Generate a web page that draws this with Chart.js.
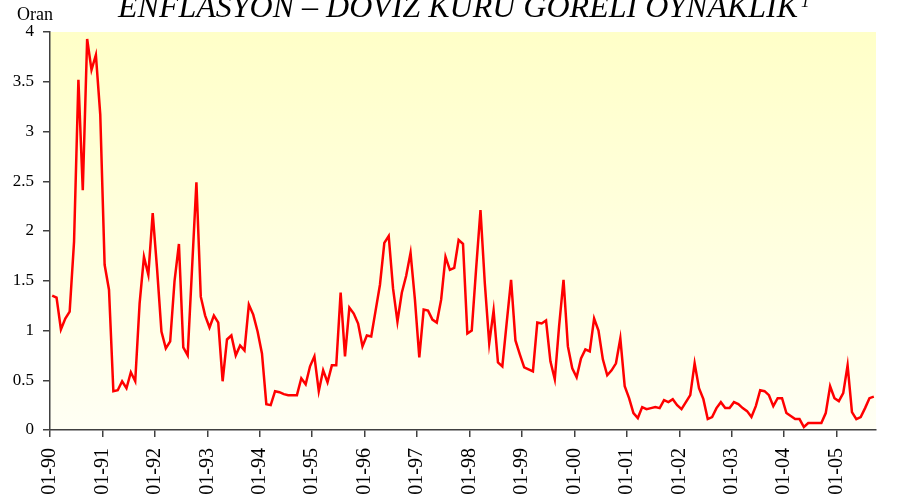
<!DOCTYPE html>
<html>
<head>
<meta charset="utf-8">
<title>Enflasyon – Döviz Kuru Göreli Oynaklık</title>
<script src="https://cdn.jsdelivr.net/npm/chart.js@4.4.1/dist/chart.umd.min.js"></script>
<style>
  html, body { margin: 0; padding: 0; background: #fff; }
  #wrap { width: 904px; height: 502px; }
</style>
</head>
<body>
<div id="wrap"><canvas id="oynaklik-chart" width="904" height="502"></canvas></div>
<script>
// x axis labels, one per January (1990 - 2005)
const yearLabels = ['01-90', '01-91', '01-92', '01-93', '01-94', '01-95', '01-96', '01-97',
  '01-98', '01-99', '01-00', '01-01', '01-02', '01-03', '01-04', '01-05'];

// monthly ratio, Jan 1990 - Sep 2005 (one row per year)
const oran = [
  1.35, 1.33, 1.01, 1.12, 1.19, 1.89, 3.52, 2.41, 3.93, 3.62, 3.77, 3.17, // 1990
  1.66, 1.41, 0.39, 0.40, 0.49, 0.42, 0.58, 0.49, 1.27, 1.74, 1.56, 2.18, // 1991
  1.62, 0.99, 0.82, 0.89, 1.50, 1.87, 0.83, 0.75, 1.62, 2.49, 1.34, 1.15, // 1992
  1.03, 1.15, 1.08, 0.49, 0.91, 0.95, 0.75, 0.85, 0.80, 1.26, 1.16, 0.99, // 1993
  0.77, 0.26, 0.25, 0.39, 0.38, 0.36, 0.35, 0.35, 0.35, 0.52, 0.46, 0.64, // 1994
  0.74, 0.39, 0.60, 0.48, 0.65, 0.65, 1.38, 0.74, 1.23, 1.17, 1.07, 0.84, // 1995
  0.95, 0.94, 1.20, 1.46, 1.88, 1.95, 1.42, 1.09, 1.38, 1.55, 1.78, 1.31, // 1996
  0.73, 1.21, 1.20, 1.11, 1.08, 1.31, 1.74, 1.61, 1.63, 1.91, 1.87, 0.97, // 1997
  1.00, 1.62, 2.21, 1.47, 0.87, 1.20, 0.68, 0.64, 1.08, 1.51, 0.90, 0.76, // 1998
  0.63, 0.61, 0.59, 1.08, 1.07, 1.10, 0.69, 0.51, 1.05, 1.51, 0.84, 0.62, // 1999
  0.53, 0.72, 0.81, 0.79, 1.12, 1.00, 0.71, 0.55, 0.60, 0.67, 0.92, 0.44, // 2000
  0.32, 0.17, 0.12, 0.23, 0.21, 0.22, 0.23, 0.22, 0.30, 0.28, 0.31, 0.25, // 2001
  0.21, 0.28, 0.35, 0.67, 0.42, 0.31, 0.11, 0.13, 0.22, 0.28, 0.22, 0.22, // 2002
  0.28, 0.26, 0.22, 0.19, 0.13, 0.24, 0.40, 0.39, 0.35, 0.24, 0.32, 0.32, // 2003
  0.17, 0.14, 0.11, 0.11, 0.03, 0.07, 0.07, 0.07, 0.07, 0.17, 0.44, 0.32, // 2004
  0.29, 0.37, 0.65, 0.18, 0.11, 0.13, 0.22, 0.32, 0.335                   // 2005
];

const chartTitle = 'ENFLASYON – DÖVİZ KURU GÖRELİ OYNAKLIK';
const titleNote = '1';
const yAxisTitle = 'Oran';

const serif = '"Liberation Serif", "Times New Roman", serif';

// each month sits in the middle of its slot, January ticks on the slot edges
const points = oran.map((v, i) => ({ x: i + 0.5, y: v }));

// pale yellow fading to white behind the plot
const plotBackground = {
  id: 'plotBackground',
  beforeDraw(chart) {
    const { ctx, chartArea: a } = chart;
    const g = ctx.createLinearGradient(0, a.top, 0, a.bottom);
    g.addColorStop(0, '#ffffc8');
    g.addColorStop(1, '#fffff4');
    ctx.save();
    ctx.fillStyle = g;
    ctx.fillRect(a.left, a.top, a.right - a.left, a.bottom - a.top);
    ctx.restore();
  }
};

// title at the very top (with its footnote mark) and the unit label above the y axis
const headings = {
  id: 'headings',
  afterDraw(chart) {
    const { ctx } = chart;
    ctx.save();
    ctx.fillStyle = '#000';
    ctx.textBaseline = 'alphabetic';
    ctx.textAlign = 'left';
    ctx.font = 'italic 32px ' + serif;
    const left = 118;
    ctx.fillText(chartTitle, left, 17);
    const w = ctx.measureText(chartTitle).width;
    ctx.font = 'italic 17px ' + serif;
    ctx.fillText(titleNote, left + w + 3, 7);
    ctx.font = '18px ' + serif;
    ctx.fillText(yAxisTitle, 17, 20);
    ctx.restore();
  }
};

const ctx = document.getElementById('oynaklik-chart').getContext('2d');

new Chart(ctx, {
  type: 'line',
  data: {
    datasets: [{
      label: yAxisTitle,
      data: points,
      borderColor: '#ff0000',
      borderWidth: 2.5,
      pointRadius: 0,
      tension: 0,
      fill: false
    }]
  },
  options: {
    responsive: false,
    animation: false,
    devicePixelRatio: 1,
    layout: { padding: { top: 32, right: 28, left: 0, bottom: 0 } },
    plugins: {
      legend: { display: false },
      tooltip: { enabled: false }
    },
    scales: {
      x: {
        type: 'linear',
        min: 0,
        max: oran.length,
        afterBuildTicks(scale) {
          scale.ticks = yearLabels.map((_, k) => ({ value: k * 12 }));
        },
        afterFit(scale) { scale.height = 72; },
        border: { display: true, color: '#404040', width: 1.5 },
        grid: { drawOnChartArea: false, drawTicks: true, tickLength: 7, color: '#404040', lineWidth: 1.5 },
        ticks: {
          autoSkip: false,
          minRotation: 90,
          maxRotation: 90,
          padding: 11,
          color: '#000',
          font: { family: serif, size: 20 },
          callback: (value) => yearLabels[Math.round(value / 12)]
        }
      },
      y: {
        min: 0,
        max: 4,
        afterFit(scale) { scale.width = 50; },
        border: { display: true, color: '#404040', width: 1.5 },
        grid: { drawOnChartArea: false, drawTicks: true, tickLength: 7, color: '#404040', lineWidth: 1.5 },
        ticks: {
          stepSize: 0.5,
          padding: 9,
          color: '#000',
          font: { family: serif, size: 17 },
          callback: (value) => String(Math.round(value * 10) / 10)
        }
      }
    }
  },
  plugins: [plotBackground, headings]
});
</script>
</body>
</html>
